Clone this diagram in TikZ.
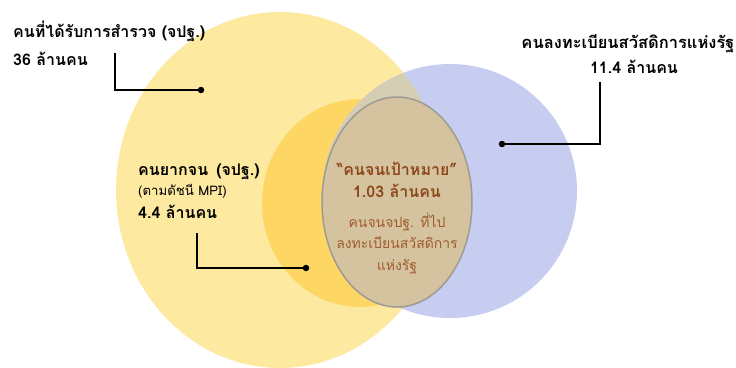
\documentclass[tikz,border=0pt]{standalone}
\usepackage{fontspec}
\newfontfamily\thai[Script=Thai]{Loma}
\definecolor{yellowL}{RGB}{253,234,160}
\definecolor{orangeM}{RGB}{253,214,100}
\definecolor{blueL}{RGB}{198,205,240}
\definecolor{grayO}{RGB}{214,206,180}
\definecolor{brownI}{RGB}{213,195,160}
\definecolor{brownE}{RGB}{158,154,148}
\definecolor{brownT}{RGB}{140,72,26}
\definecolor{brownR}{RGB}{160,92,45}
\begin{document}
\begin{tikzpicture}[x=1pt,y=-1pt,
  lblb/.style={anchor=base west, inner sep=0, font=\thai\bfseries\fontsize{16}{19}\selectfont},
  lbln/.style={anchor=base west, inner sep=0, font=\thai\fontsize{13.2}{16}\selectfont},
  ctrb/.style={anchor=base, inner sep=0, text=brownT, font=\thai\bfseries\fontsize{16}{19}\selectfont},
  ctrn/.style={anchor=base, inner sep=0, text=brownR, font=\thai\fontsize{14}{17}\selectfont},
  conn/.style={line width=2pt, black},
  dotm/.style={circle, fill=black, inner sep=0, minimum size=6.5pt}]
\useasboundingbox (0,0) rectangle (736,367);
\clip (0,0) rectangle (736,367);
% circles
\fill[yellowL] (280,190) ellipse [x radius=164, y radius=178];
\fill[orangeM] (360,203) ellipse [x radius=98, y radius=104];
\fill[blueL] (450,191) circle [radius=127];
\begin{scope}
  \clip (450,191) circle [radius=127];
  \fill[grayO] (280,190) ellipse [x radius=164, y radius=178];
\end{scope}
\filldraw[fill=brownI, draw=brownE, line width=1.5pt] (397,202) ellipse [x radius=75, y radius=105];
% labels
\node[lblb] (t1) at (13,37) {คนที่ได้รับการสำรวจ (จปฐ.)};
\node[lblb] (t2) at (13,65) {36 ล้านคน};
\node[lblb, anchor=base, font=\thai\bfseries\fontsize{16.5}{19}\selectfont] (r1) at (628,48) {คนลงทะเบียนสวัสดิการแห่งรัฐ};
\node[lblb, anchor=base] (r2) at (634,73) {11.4 ล้านคน};
\node[lblb] (m1) at (138,175) {คนยากจน \,(จปฐ.)};
\node[lbln] (m2) at (138,195) {(ตามดัชนี MPI)};
\node[lblb] (m3) at (138,218) {4.4 ล้านคน};
\node[ctrb] (c1) at (397,175) {“คนจนเป้าหมาย”};
\node[ctrb] (c2) at (397,197) {1.03 ล้านคน};
\node[ctrn] (c3) at (397,227) {คนจนจปฐ. ที่ไป};
\node[ctrn] (c4) at (397,248) {ลงทะเบียนสวัสดิการ};
\node[ctrn] (c5) at (397,270) {แห่งรัฐ};
% connectors
\coordinate (a1) at (115,53);
\node[dotm] (d1) at (201,90) {};
\draw[conn] (a1) |- (d1.center);
\coordinate (a2) at (600,82);
\node[dotm] (d2) at (502,144) {};
\draw[conn] (a2) |- (d2.center);
\coordinate (a3) at (197,233);
\node[dotm] (d3) at (306,268) {};
\draw[conn] (a3) |- (d3.center);
\end{tikzpicture}
\end{document}
